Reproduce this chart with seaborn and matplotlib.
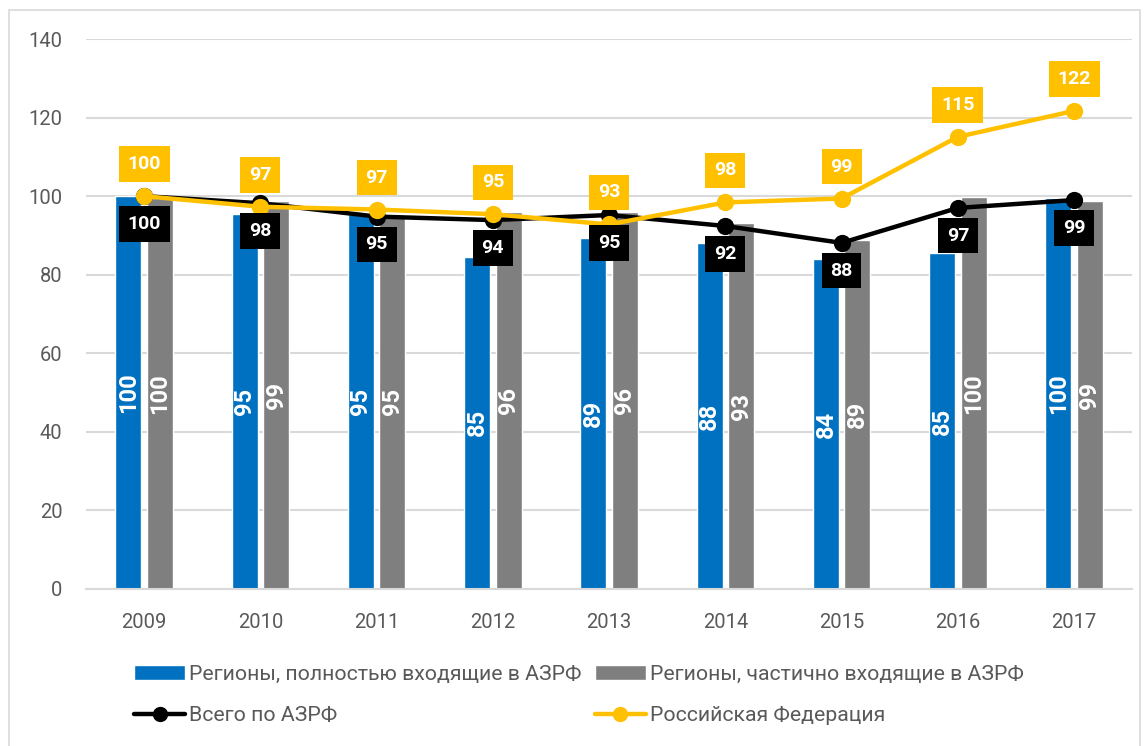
import numpy as np
import pandas as pd
import seaborn as sns
import matplotlib.pyplot as plt
from matplotlib.patches import Patch, Rectangle
from matplotlib.lines import Line2D

sns.set_style("white")
plt.rcParams['font.family'] = ['Roboto', 'DejaVu Sans']

# data (index, 2009 = 100)
years = ["2009", "2010", "2011", "2012", "2013", "2014", "2015", "2016", "2017"]
full_regions = [100, 95.4, 95.4, 84.6, 89.4, 88.1, 84.0, 85.4, 99.6]
part_regions = [99.6, 98.7, 95.2, 95.9, 95.9, 93.1, 88.8, 99.7, 98.7]
azrf_total = [100, 98.2, 94.8, 93.9, 95.2, 92.4, 88.1, 97.0, 99.0]
russia = [100, 97.3, 96.6, 95.4, 92.8, 98.4, 99.4, 115.1, 121.7]

bar_names = ["Регионы, полностью входящие в АЗРФ", "Регионы, частично входящие в АЗРФ"]
line_names = ["Всего по АЗРФ", "Российская Федерация"]
bar_colors = ["#0070C0", "#7F7F7F"]
line_colors = ["#000000", "#FFC000"]

bars = pd.DataFrame({
    "year": years * 2,
    "value": full_regions + part_regions,
    "series": [bar_names[0]] * len(years) + [bar_names[1]] * len(years),
})
lines = pd.DataFrame({
    "year": years * 2,
    "value": azrf_total + russia,
    "series": [line_names[0]] * len(years) + [line_names[1]] * len(years),
})

fig = plt.figure(figsize=(11.46, 7.46), dpi=100)
ax = fig.add_axes([0.075, 0.2105, 0.913, 0.7372])

sns.barplot(data=bars, x="year", y="value", hue="series", hue_order=bar_names,
            palette=bar_colors, saturation=1, width=0.54, gap=0.17, errorbar=None,
            legend=False, ax=ax, zorder=2)

for cont in ax.containers:
    ax.bar_label(cont, labels=[f"{v:.0f}" for v in cont.datavalues],
                 label_type="center", rotation=90, color="white",
                 fontsize=17, fontweight="bold")

sns.pointplot(data=lines, x="year", y="value", hue="series", hue_order=line_names,
              palette=line_colors, markers="o", linestyles="-", errorbar=None,
              legend=False, ax=ax, markersize=10, linewidth=3.2)
for ln in ax.lines:
    ln.set_zorder(4)

# boxed value labels for the two lines
for i, v in enumerate(azrf_total):
    ax.annotate(f"{v:.0f}", (i, v), xytext=(0, -20), textcoords="offset points",
                ha="center", va="center", color="white", fontsize=14,
                fontweight="bold", zorder=6,
                bbox=dict(boxstyle="square,pad=0.45", fc="black", ec="none"))
for i, v in enumerate(russia):
    ax.annotate(f"{v:.0f}", (i, v), xytext=(0, 23), textcoords="offset points",
                ha="center", va="center", color="white", fontsize=14,
                fontweight="bold", zorder=6,
                bbox=dict(boxstyle="square,pad=0.45", fc="#FFC000", ec="none"))

ax.set_ylim(0, 140)
ax.set_yticks(range(0, 141, 20))
ax.set_xlim(-0.5, len(years) - 0.5)
ax.yaxis.grid(True, color="#D9D9D9", linewidth=1.5, zorder=0)
ax.set_axisbelow(True)
ax.set_xlabel("")
ax.set_ylabel("")
sns.despine(ax=ax, left=True, top=True, right=True)
ax.spines["bottom"].set_color("#D9D9D9")
ax.spines["bottom"].set_linewidth(1.5)
ax.tick_params(axis="y", length=0, pad=17, labelsize=14.5, labelcolor="#595959")
ax.tick_params(axis="x", length=0, pad=17, labelsize=14.5, labelcolor="#595959")

handles = [
    Patch(facecolor=bar_colors[0], label=bar_names[0]),
    Line2D([], [], color=line_colors[0], lw=3.2, marker="o", ms=10, label=line_names[0]),
    Patch(facecolor=bar_colors[1], label=bar_names[1]),
    Line2D([], [], color=line_colors[1], lw=3.2, marker="o", ms=10, label=line_names[1]),
]
leg = fig.legend(handles=handles, ncol=2, loc="upper left",
                 bbox_to_anchor=(134 / 1146, 1 - 665 / 746), frameon=False,
                 fontsize=15.3, handlelength=2.4, handletextpad=0.2,
                 labelspacing=1.05, columnspacing=0.6, borderpad=0, borderaxespad=0)
for t in leg.get_texts():
    t.set_color("#595959")

# light frame around the chart area
fig.add_artist(Rectangle((9 / 1146, -0.01), 1131 / 1146, 1 - 10 / 746 + 0.01,
                         transform=fig.transFigure, fill=False,
                         edgecolor="#D9D9D9", linewidth=1.2))

fig.savefig("out.png", dpi=100)
